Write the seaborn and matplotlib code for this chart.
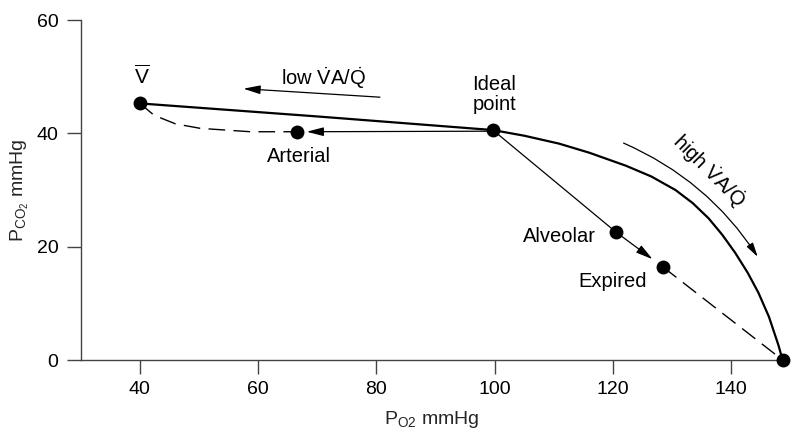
import matplotlib
matplotlib.use("Agg")
import matplotlib.pyplot as plt
import seaborn as sns
import pandas as pd
from matplotlib.patches import FancyArrowPatch

# ---- data ----
curve_po2 = [40, 70, 99.7, 105, 110.9, 116, 122.2, 126.5, 130.6, 133.5, 136.2,
             138.5, 140.7, 142.8, 144.6, 146.4, 148.0, 148.7]
curve_pco2 = [45.3, 43.0, 40.6, 39.6, 38.2, 36.6, 34.3, 32.4, 30.0, 27.7, 25.0,
              22.1, 18.9, 15.4, 11.9, 7.6, 2.6, 0]

va_dash_po2 = [40, 42.4, 46, 50.2, 58.7, 66.6]
va_dash_pco2 = [45.3, 43.2, 41.7, 40.9, 40.3, 40.3]

pt_names = ["Vbar", "Arterial", "Ideal", "Alveolar", "Expired", "Inspired"]
pt_po2 = [40, 66.6, 99.7, 120.5, 128.5, 148.7]
pt_pco2 = [45.3, 40.3, 40.6, 22.6, 16.4, 0]

xticks = [40, 60, 80, 100, 120, 140]
yticks = [0, 20, 40, 60]

sns.set_theme(style="ticks")
plt.rcParams["font.family"] = ["Liberation Sans", "DejaVu Sans"]
plt.rcParams["mathtext.fontset"] = "custom"
plt.rcParams["mathtext.rm"] = "Liberation Sans"
plt.rcParams["mathtext.it"] = "Liberation Sans:italic"
plt.rcParams["text.color"] = "black"

fig, ax = plt.subplots(figsize=(8, 4.38), dpi=100)
fig.subplots_adjust(left=0.101, right=0.979, bottom=0.178, top=0.954)

DASH = (0, (12, 6))
ARROW = "-|>,head_length=0.85,head_width=0.22"

curve = pd.DataFrame({"x": curve_po2, "y": curve_pco2})
sns.lineplot(data=curve, x="x", y="y", sort=False, color="black", lw=1.6, ax=ax)

dash = pd.DataFrame({"x": va_dash_po2, "y": va_dash_pco2})
sns.lineplot(data=dash, x="x", y="y", sort=False, color="black", lw=1.0,
             linestyle=DASH, ax=ax)

P = dict(zip(pt_names, zip(pt_po2, pt_pco2)))

# ideal -> alveolar (solid thin)
seg = pd.DataFrame({"x": [P["Ideal"][0], P["Alveolar"][0]],
                    "y": [P["Ideal"][1], P["Alveolar"][1]]})
sns.lineplot(data=seg, x="x", y="y", sort=False, color="black", lw=0.9, ax=ax)
# alveolar -> expired (solid with arrow)
ax.annotate("", xy=(126.7, 17.8), xytext=P["Alveolar"],
            arrowprops=dict(arrowstyle=ARROW, color="black", lw=0.9,
                            shrinkA=0, shrinkB=0))
# expired -> inspired (dashed)
seg2 = pd.DataFrame({"x": [P["Expired"][0], P["Inspired"][0]],
                     "y": [P["Expired"][1], P["Inspired"][1]]})
sns.lineplot(data=seg2, x="x", y="y", sort=False, color="black", lw=1.0,
             linestyle=DASH, ax=ax)
# ideal -> arterial arrow
ax.annotate("", xy=(68.2, 40.3), xytext=(99.7, 40.4),
            arrowprops=dict(arrowstyle=ARROW, color="black", lw=0.9,
                            shrinkA=0, shrinkB=0))

pts = pd.DataFrame({"x": pt_po2, "y": pt_pco2})
sns.scatterplot(data=pts, x="x", y="y", color="black", s=100, linewidth=0,
                zorder=5, ax=ax, clip_on=False)

# low VA/Q arrow
ax.annotate("", xy=(57.5, 47.9), xytext=(80.6, 46.4),
            arrowprops=dict(arrowstyle=ARROW, color="black", lw=0.9,
                            shrinkA=0, shrinkB=0))
ax.text(71, 48.5, r"low $\dot{\mathrm{V}}$A/$\dot{\mathrm{Q}}$", fontsize=14.5,
        ha="center", va="baseline")

# high VA/Q curved arrow
arr = FancyArrowPatch((121.8, 38.3), (144.5, 18.2), connectionstyle="arc3,rad=-0.15",
                      arrowstyle="-|>,head_length=8.5,head_width=2.2", color="black",
                      lw=0.9, shrinkA=0, shrinkB=0)
ax.add_patch(arr)
ax.text(136.2, 33.5, r"high $\dot{\mathrm{V}}$A/$\dot{\mathrm{Q}}$", fontsize=14.5,
        ha="center", va="center", rotation=-45, rotation_mode="anchor")

ax.text(40.3, 48.0, r"$\overline{\mathrm{V}}$", fontsize=15, ha="center", va="bottom")
ax.text(99.9, 43.4, "Ideal\npoint", fontsize=14.5, ha="center", va="bottom",
        linespacing=1.05)
ax.text(66.9, 37.6, "Arterial", fontsize=14.5, ha="center", va="top")
ax.text(117.1, 21.8, "Alveolar", fontsize=14.5, ha="right", va="center")
ax.text(119.9, 15.6, "Expired", fontsize=14.5, ha="center", va="top")

ax.set_xlim(30, 148.8)
ax.set_ylim(0, 60)
ax.set_xticks(xticks)
ax.set_yticks(yticks)
ax.tick_params(labelsize=14, length=10, width=1.0, color="#444444",
               labelcolor="black")
ax.tick_params(axis="x", pad=5)
ax.tick_params(axis="y", pad=6)
ax.set_xlabel(r"P$_{\mathrm{O2}}$ mmHg", fontsize=14, labelpad=8)
ax.set_ylabel(r"P$_{\mathrm{CO_2}}$ mmHg", fontsize=14, labelpad=4)
for s in ["left", "bottom"]:
    ax.spines[s].set_color("#444444")
    ax.spines[s].set_linewidth(1.0)
sns.despine(ax=ax)

fig.savefig("out.png", dpi=100)
